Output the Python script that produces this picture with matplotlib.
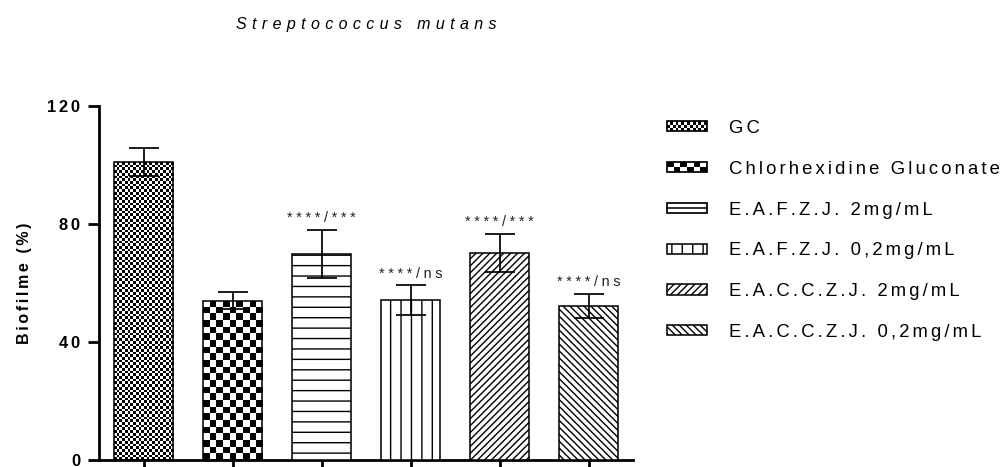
#!/usr/bin/env python

# --------------------------------------- Imports -------------------------------------
import                                          numpy as np
import                                          matplotlib
matplotlib.use('Agg')
import                                          matplotlib.pyplot as plt
from matplotlib.patches import                  Rectangle
from matplotlib.lines import                    Line2D
from matplotlib.legend_handler import           HandlerBase

# --------------------------------------- Data -------------------------------------
title = 'Streptococcus mutans'
ylabel = 'Biofilme (%)'
groups = ['GC', 'Chlorhexidine Gluconate', 'E.A.F.Z.J. 2mg/mL', 'E.A.F.Z.J. 0,2mg/mL',
          'E.A.C.C.Z.J. 2mg/mL', 'E.A.C.C.Z.J. 0,2mg/mL']
means = [101.0, 54.0, 69.8, 54.2, 70.2, 52.2]
errs = [4.6, 2.8, 8.2, 5.0, 6.5, 4.0]
stars = ['', '', '****/***', '****/ns', '****/***', '****/ns']
yticks = [0, 40, 80, 120]

# style per bar: checker cell size in px (bars), checker cells (legend), or hatch
checker_px = [2.7, 6.6, None, None, None, None]
legend_checker = [(14, 3), (6, 2), None, None, None, None]
hatches = [None, None, '--', '||', '//////', '\\' * 6]

FONT = ['Liberation Sans', 'DejaVu Sans']
plt.rcParams['font.family'] = FONT
plt.rcParams['hatch.linewidth'] = 0.8
DPI = 125

# prism style letter spacing with unicode spaces
THREE = '\u2004'
FOUR = '\u2005'
SIX = '\u2006'


def spaced(s, sep):
    return sep.join(s)


class CheckerHandler(HandlerBase):
    def __init__(self, nx, ny):
        super().__init__()
        self.nx = nx
        self.ny = ny

    def create_artists(self, legend, orig_handle, xdescent, ydescent, width, height, fontsize, trans):
        arts = []
        cw = width / self.nx
        ch = height / self.ny
        for i in range(self.nx):
            for j in range(self.ny):
                if (i + j) % 2:
                    arts.append(Rectangle((-xdescent + i * cw, -ydescent + j * ch), cw, ch,
                                          facecolor='black', edgecolor='none', transform=trans))
        arts.append(Rectangle((-xdescent, -ydescent), width, height, facecolor='none',
                              edgecolor='black', lw=1.0, transform=trans))
        return arts


class MidLineHandler(HandlerBase):
    # box with a single horizontal line, like prism's legend swatch
    def create_artists(self, legend, orig_handle, xdescent, ydescent, width, height, fontsize, trans):
        rect = Rectangle((-xdescent, -ydescent), width, height, facecolor='white',
                         edgecolor='black', lw=1.0, transform=trans)
        ym = -ydescent + height / 2
        ln = Line2D([-xdescent, -xdescent + width], [ym, ym], color='black', lw=0.9, transform=trans)
        return [rect, ln]


# --------------------------------------- Plot -------------------------------------
fig = plt.figure(figsize=(1008 / DPI, 467 / DPI), dpi=DPI)
ax = fig.add_axes([99 / 1008, 7 / 467, 534 / 1008, 354 / 467])

x = np.arange(len(groups))
bars = ax.bar(x, means, width=0.665, facecolor='white', edgecolor='black', linewidth=0.9,
              yerr=errs, capsize=8.4, error_kw=dict(elinewidth=1.0, capthick=1.0, ecolor='black'),
              zorder=3)
for b, h in zip(bars, hatches):
    if h:
        b.set_hatch(h)

ax.set_xlim(-0.5, len(groups) - 0.5)
ax.set_ylim(0, 120)

# checker fills, clipped to bars
fig.canvas.draw()
for b, cpx in zip(bars, checker_px):
    if cpx is None:
        continue
    x0, y0 = b.get_x(), 0
    x1, y1 = b.get_x() + b.get_width(), b.get_height()
    p0 = ax.transData.transform((x0, y0))
    p1 = ax.transData.transform((x1, y1))
    nx = max(1, int(round((p1[0] - p0[0]) / cpx)))
    ny = max(1, int(round((p1[1] - p0[1]) / cpx)))
    arr = (np.add.outer(np.arange(ny), np.arange(nx)) % 2).astype(float)
    im = ax.imshow(arr, cmap='gray', extent=(x0, x1, y0, y1), aspect='auto',
                   interpolation='nearest', origin='lower', zorder=2)
    im.set_clip_path(b)
    b.set_facecolor('none')
ax.set_xlim(-0.5, len(groups) - 0.5)
ax.set_ylim(0, 120)

for xi, m, e, s in zip(x, means, errs, stars):
    if s:
        ax.annotate(spaced(s, FOUR), (xi, m + e), xytext=(0, 4.5), textcoords='offset points',
                    ha='center', va='baseline', fontsize=8.3, color='#222222')

for sp in ['top', 'right']:
    ax.spines[sp].set_visible(False)
for sp in ['left', 'bottom']:
    ax.spines[sp].set_linewidth(1.6)

ax.set_yticks(yticks)
ax.set_yticklabels([spaced(str(t), SIX) for t in yticks], fontweight='bold', fontsize=9.5)
ax.set_xticks(x)
ax.set_xticklabels([])
ax.tick_params(axis='y', length=6.3, width=1.6, pad=4.5)
ax.tick_params(axis='x', length=6, width=1.6)
ax.set_ylabel(spaced(ylabel, SIX), fontweight='bold', fontsize=9.2)
ax.yaxis.set_label_coords(-0.125, 0.5)

fig.text(366 / 1008, 1 - 29 / 467, spaced(title, THREE), style='italic', fontsize=9.2,
         ha='center', va='baseline')

handler_map = {}
for b, n, h in zip(bars, legend_checker, hatches):
    if n:
        handler_map[b] = CheckerHandler(*n)
    elif h == '--':
        handler_map[b] = MidLineHandler()
leg = ax.legend(list(bars), [spaced(g, SIX) for g in groups], handler_map=handler_map,
                loc='upper left', bbox_to_anchor=(667 / 1008, 1 - 120 / 467),
                bbox_transform=fig.transFigure, frameon=False, fontsize=10.7,
                handlelength=2.15, handleheight=0.46, handletextpad=1.18,
                labelspacing=1.28, borderpad=0, borderaxespad=0)

fig.savefig('out.png', dpi=DPI)
